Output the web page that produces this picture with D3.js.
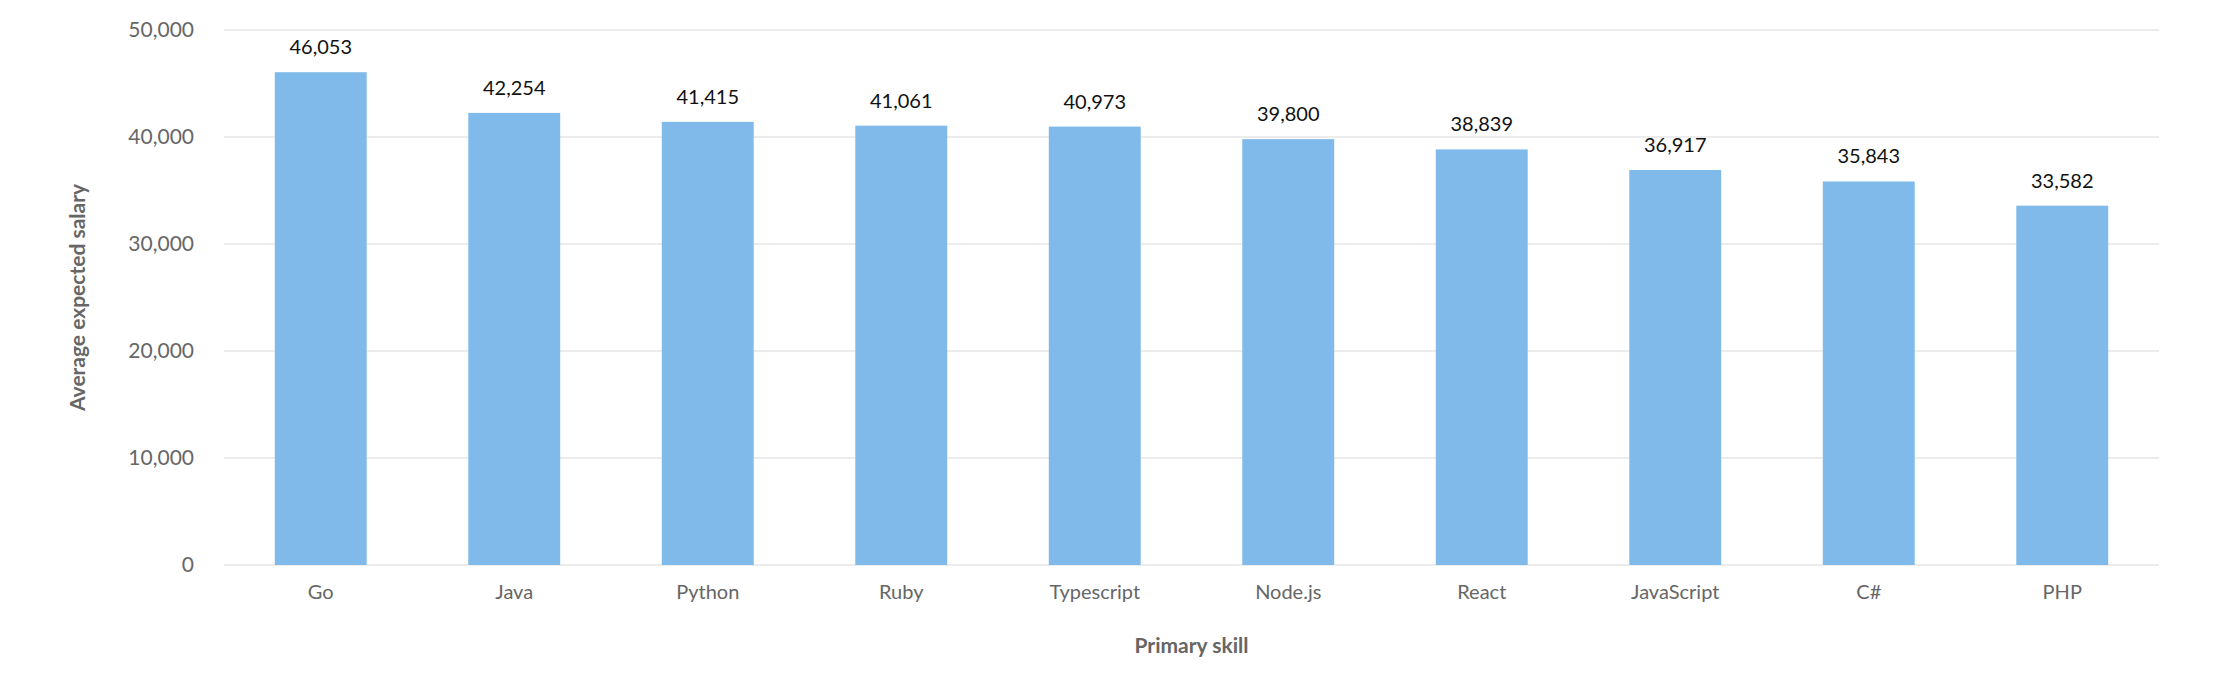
<!DOCTYPE html>
<html>
<head>
<meta charset="utf-8">
<script src="https://cdn.jsdelivr.net/npm/d3@7"></script>
<style>
body { margin: 0; background: #fff; }
text { font-family: Lato, "Open Sans", sans-serif; }
</style>
</head>
<body>
<svg id="chart" width="2220" height="700"></svg>
<script>
var skills = ["Go", "Java", "Python", "Ruby", "Typescript", "Node.js", "React", "JavaScript", "C#", "PHP"];
var salaries = [46053, 42254, 41415, 41061, 40973, 39800, 38839, 36917, 35843, 33582];
var yTicks = [0, 10000, 20000, 30000, 40000, 50000];

var margin = { left: 224, right: 61, top: 30, bottom: 135 };
var svg = d3.select("#chart");
var width = 2220 - margin.left - margin.right;
var height = 700 - margin.top - margin.bottom;
var g = svg.append("g").attr("transform", "translate(" + margin.left + "," + margin.top + ")");

var x = d3.scaleBand().domain(skills).range([0, width]).paddingInner(0.525).paddingOuter(0.2625);
var y = d3.scaleLinear().domain([0, 50000]).range([height, 0]);
var fmt = d3.format(",");

// grid
g.selectAll(".grid")
    .data(yTicks)
    .enter()
    .append("line")
    .attr("x1", 0).attr("x2", width)
    .attr("y1", function(d) { return y(d); })
    .attr("y2", function(d) { return y(d); })
    .attr("stroke", "#e6e6e6")
    .attr("stroke-width", 1.5);

var yAxis = g.append("g")
    .call(d3.axisLeft(y).tickValues(yTicks).tickFormat(fmt).tickSize(0).tickPadding(30));
yAxis.select(".domain").remove();
yAxis.selectAll("text").attr("font-size", 21).attr("fill", "#666");

var xAxis = g.append("g")
    .attr("transform", "translate(0," + height + ")")
    .call(d3.axisBottom(x).tickSize(0).tickPadding(20));
xAxis.select(".domain").remove();
xAxis.selectAll("text").attr("font-size", 20).attr("fill", "#666");

g.selectAll(".bar")
    .data(salaries)
    .enter()
    .append("rect")
    .attr("x", function(d, i) { return x(skills[i]); })
    .attr("y", function(d) { return y(d); })
    .attr("width", x.bandwidth())
    .attr("height", function(d) { return height - y(d); })
    .attr("fill", "#7fbaea");

g.selectAll(".val")
    .data(salaries)
    .enter()
    .append("text")
    .attr("x", function(d, i) { return x(skills[i]) + x.bandwidth() / 2; })
    .attr("y", function(d) { return y(d) - 18; })
    .attr("text-anchor", "middle")
    .attr("font-size", 20)
    .attr("fill", "#111")
    .text(function(d) { return fmt(d); });

svg.append("text")
    .attr("x", margin.left + width / 2)
    .attr("y", 653)
    .attr("text-anchor", "middle")
    .attr("font-size", 21)
    .attr("font-weight", "bold")
    .attr("fill", "#666")
    .text("Primary skill");

svg.append("text")
    .attr("transform", "translate(85," + (margin.top + height / 2) + ") rotate(-90)")
    .attr("text-anchor", "middle")
    .attr("font-size", 21)
    .attr("font-weight", "bold")
    .attr("fill", "#666")
    .text("Average expected salary");
</script>
</body>
</html>
